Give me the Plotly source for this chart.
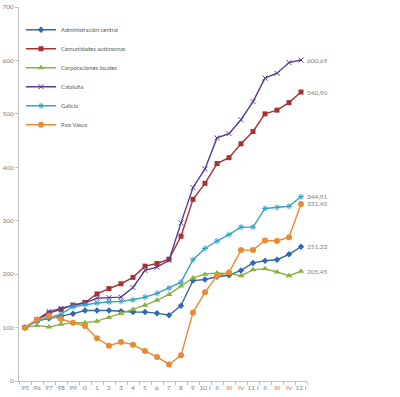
import plotly.graph_objects as go

categories = ["95", "96", "97", "98", "99", "0", "1", "2", "3", "4", "5", "6", "7", "8", "9",
              "10 I", "II", "III", "IV", "11 I", "II", "III", "IV", "12 I"]

admin_central = [100, 113, 117, 121, 126, 132, 132, 132, 130.5, 129, 129, 127, 123, 141, 188,
                 190, 195, 198, 207, 221, 225, 227, 237, 251.33]
comunidades = [100, 113, 127, 134, 142, 147, 163, 173, 182, 194, 215, 220, 228, 271, 340,
               370, 407, 418, 444, 467, 500, 507, 521, 540.90]
corporaciones = [100, 104, 101, 106, 109, 109, 112, 119, 126, 134, 142, 151, 162, 178, 193,
                 200, 202, 201, 197, 208, 210, 204, 197, 205.45]
cataluna = [100, 115, 130, 136, 142, 146, 155, 156, 157, 175, 207, 213, 226, 296, 362,
            397, 455, 463, 489, 523, 567, 576, 596, 600.69]
galicia = [100, 112, 118, 125, 139, 143, 146, 148, 149, 152, 157, 164, 174, 185, 227,
           248, 262, 274, 288, 288, 323, 325, 327, 344.91]
pais_vasco = [100, 115, 122, 116, 109, 103, 80, 66, 73, 68, 56, 45, 31, 48, 128,
              166, 197, 203, 245, 245, 263, 262, 269, 331.45]

y_ticks = [0, 100, 200, 300, 400, 500, 600, 700]

series = [
    ("Administración central", admin_central, "#3069B0", "diamond", 5, None),
    ("Comunidades autónomas", comunidades, "#A83232", "square", 5, None),
    ("Corporaciones locales", corporaciones, "#8CB043", "triangle-up", 6, None),
    ("Cataluña", cataluna, "#5B3A93", "x-thin-open", 5, 1),
    ("Galicia", galicia, "#35A3C2", "asterisk-open", 5, 1),
    ("País Vasco", pais_vasco, "#EA8A33", "circle", 6, None),
]

x_idx = list(range(len(categories)))
FONT = "Lato"

fig = go.Figure()
for name, vals, color, sym, size, mlw in series:
    marker = dict(symbol=sym, size=size, color=color)
    if mlw:
        marker["line"] = dict(color=color, width=mlw)
    fig.add_trace(go.Scatter(
        x=x_idx, y=vals, name=name, mode="lines+markers",
        line=dict(color=color, width=1.4), marker=marker,
    ))

for name, vals, color, sym, size, mlw in series:
    fig.add_annotation(
        x=x_idx[-1], y=vals[-1], xref="x", yref="y",
        text=f"{vals[-1]:.2f}".replace(".", ","),
        showarrow=False, xanchor="left", yanchor="middle", xshift=4,
        font=dict(family=FONT, size=6.5, color="#7f7f7f"),
    )

fig.update_layout(
    width=400, height=397,
    margin=dict(l=19, r=93, t=7, b=16, autoexpand=False),
    paper_bgcolor="white", plot_bgcolor="white",
    font=dict(family=FONT, size=7, color="#7f7f7f"),
    showlegend=True,
    legend=dict(
        x=0.007, y=0.978, xanchor="left", yanchor="top",
        font=dict(family=FONT, size=5.8, color="#595959"),
        bgcolor="rgba(0,0,0,0)", itemwidth=30, tracegroupgap=0,
    ),
    xaxis=dict(
        range=[-0.5, len(categories) - 0.5],
        tickvals=x_idx, ticktext=categories, automargin=False,
        showgrid=False, zeroline=False,
        showline=True, linecolor="#bfbfbf", linewidth=1,
        ticks="", tickfont=dict(family=FONT, size=6.5, color="#7f7f7f"),
        minor=dict(tickvals=[i - 0.5 for i in range(len(categories) + 1)],
                   ticks="outside", ticklen=3, tickcolor="#bfbfbf", showgrid=False),
    ),
    yaxis=dict(
        range=[0, 700], tickvals=y_ticks, automargin=False,
        showgrid=False, zeroline=False,
        showline=True, linecolor="#bfbfbf", linewidth=1,
        ticks="outside", ticklen=3, tickcolor="#bfbfbf",
        tickfont=dict(family=FONT, size=6.5, color="#7f7f7f"),
    ),
)

fig.write_html(
    "out.html",
    config={"displayModeBar": False},
    post_script="document.body.style.margin='0';document.body.style.padding='0';",
)
